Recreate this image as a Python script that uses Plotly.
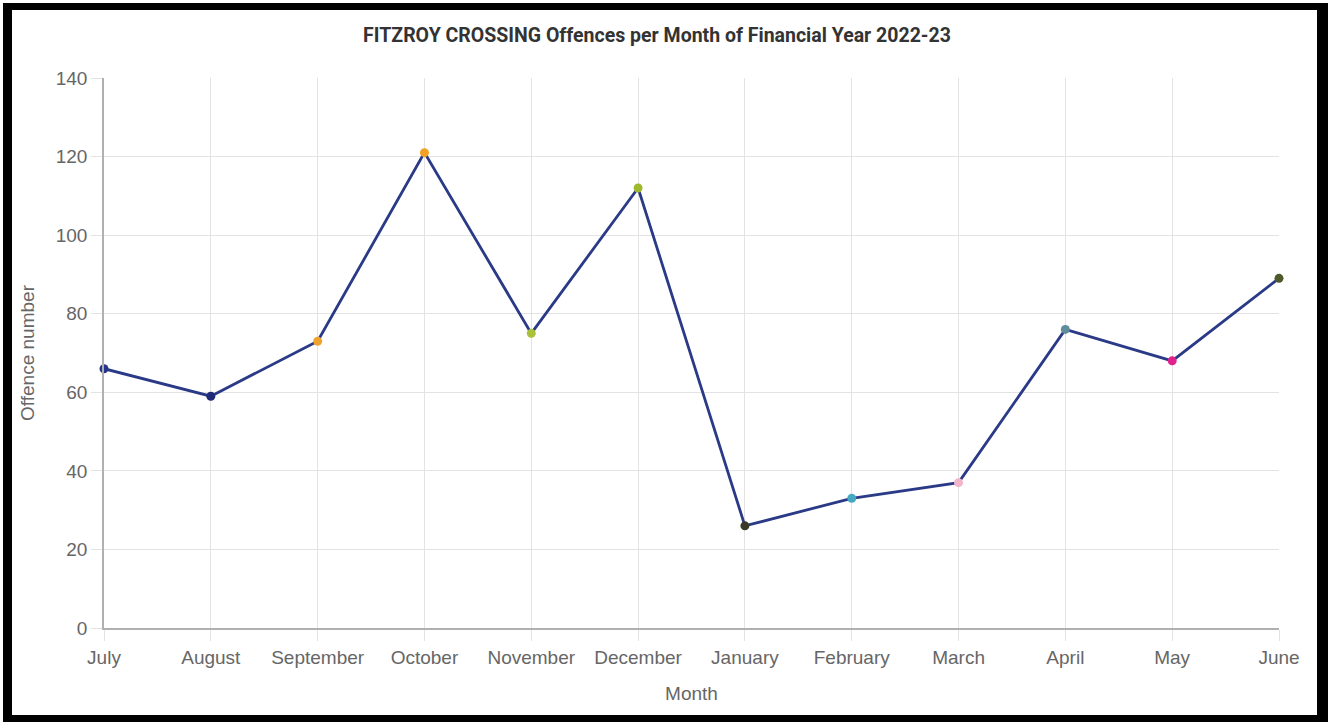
import plotly.graph_objects as go

months = ["July", "August", "September", "October", "November", "December",
          "January", "February", "March", "April", "May", "June"]
offences = [66, 59, 73, 121, 75, 112, 26, 33, 37, 76, 68, 89]
marker_colors = ["#26348a", "#1f2a78", "#f0a22e", "#f2a125", "#a9c23a", "#9fb92f",
                 "#3a3826", "#45a9c4", "#f3b3c9", "#5f8d9c", "#e0228c", "#4f5a2c"]
y_ticks = [0, 20, 40, 60, 80, 100, 120, 140]

L, R, T, B = 104, 1279, 78, 628
W, H = 1328, 722

fig = go.Figure()
fig.add_trace(go.Scatter(
    x=months, y=offences, mode="lines+markers",
    line=dict(color="#2a3a86", width=2.8),
    marker=dict(color=marker_colors, size=9, line=dict(width=0)),
    cliponaxis=False,
    showlegend=False,
))

def px_x(p):
    return (p - L) / (R - L)

def px_y(p):
    return (B - p) / (B - T)

def black_box(x0, x1, y0, y1):
    fig.add_shape(type="rect", xref="paper", yref="paper",
                  x0=px_x(x0), x1=px_x(x1), y0=px_y(y1), y1=px_y(y0),
                  line=dict(width=0), fillcolor="#000000", layer="above")

black_box(3, 12, 3, 722)      # left
black_box(3, 1328, 3, 10)     # top
black_box(1317, 1328, 3, 722) # right
black_box(3, 1328, 715, 722)  # bottom

fig.update_layout(
    width=W, height=H,
    margin=dict(l=L, r=W - R, t=T, b=H - B, pad=0),
    paper_bgcolor="white", plot_bgcolor="white",
    font=dict(family="Liberation Sans, Arial, sans-serif", color="#666666", size=19),
    title=dict(text="<b>FITZROY CROSSING Offences per Month of Financial Year 2022-23</b>",
               x=px_x(657), xref="paper", xanchor="center",
               y=1 - 35 / H, yref="container", yanchor="middle",
               font=dict(family="Roboto, sans-serif", size=19.5, color="#333333")),
    xaxis=dict(
        type="category", range=[0, len(months) - 1],
        showgrid=True, gridcolor="#e3e3e3", gridwidth=1,
        showline=True, linecolor="#b0b0b0", linewidth=1.5,
        ticks="outside", ticklen=11, tickcolor="#e3e3e3", tickwidth=1,
        tickfont=dict(size=19, color="#666666"),
        title=dict(text="Month", font=dict(size=19, color="#666666"), standoff=20),
        zeroline=False,
    ),
    yaxis=dict(
        range=[0, 140], tickvals=y_ticks,
        showgrid=True, gridcolor="#e3e3e3", gridwidth=1,
        showline=True, linecolor="#b0b0b0", linewidth=1.5,
        ticks="outside", ticklen=11, tickcolor="#e3e3e3", tickwidth=1,
        tickfont=dict(size=19, color="#666666"),
        title=dict(text="Offence number", font=dict(size=19, color="#666666"), standoff=16),
        zeroline=False,
    ),
)

fig.write_html("out.html", config={"displayModeBar": False},
               post_script="document.body.style.margin='0';document.body.style.overflow='hidden';")
